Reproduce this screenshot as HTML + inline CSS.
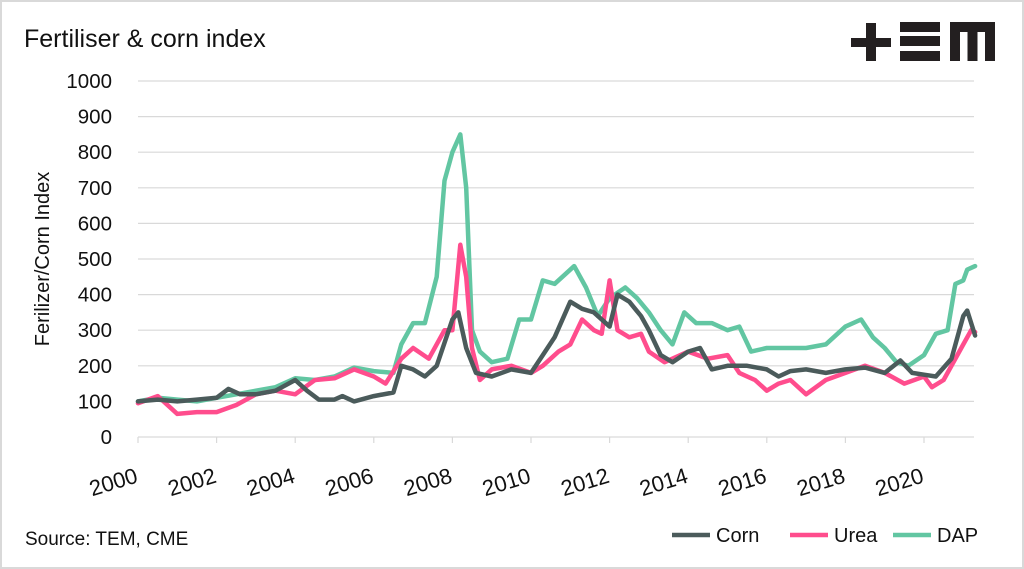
<!DOCTYPE html>
<html><head><style>
body{margin:0;background:#fff;}
svg{display:block;font-family:"Liberation Sans",sans-serif;}
</style></head><body>
<svg id="s" width="1024" height="569" viewBox="0 0 1024 569">
<rect x="1" y="1" width="1022" height="567" fill="#fff" stroke="#d9d9d9" stroke-width="2"/>
<text x="24" y="47" font-size="25" fill="#111">Fertiliser &amp; corn index</text>
<g fill="#231f20">
<rect x="851" y="38" width="40" height="9"/><rect x="866" y="23" width="10" height="38"/>
<rect x="900" y="22" width="40" height="10"/><rect x="900" y="36" width="40" height="10"/><rect x="900" y="51" width="40" height="10"/>
<path d="M950 22h45v39h-10v-29h-7.5v29h-10v-29h-7.5v29h-10z"/>
</g>
<g id="grid" stroke="#d9d9d9" stroke-width="1.2"></g>
<g id="yl" font-size="20.5" fill="#111" text-anchor="end"></g>
<g id="xl" font-size="22" fill="#111" text-anchor="end"></g>
<text transform="translate(49,259) rotate(-90)" font-size="20" text-anchor="middle" fill="#111">Ferilizer/Corn Index</text>
<g id="lines" fill="none" stroke-width="4.5" stroke-linejoin="round" stroke-linecap="round"></g>
<text x="25" y="545" font-size="19" fill="#111">Source: TEM, CME</text>
<line x1="672" y1="535" x2="710" y2="535" stroke="#4b5b5b" stroke-width="4.5"/>
<text x="716" y="542" font-size="20" fill="#111">Corn</text>
<line x1="790" y1="535" x2="828" y2="535" stroke="#ff4d8d" stroke-width="4.5"/>
<text x="834" y="542" font-size="20" fill="#111">Urea</text>
<line x1="893" y1="535" x2="931" y2="535" stroke="#62c6a2" stroke-width="4.5"/>
<text x="937" y="542" font-size="20" fill="#111">DAP</text>
</svg>
<script>
const NS="http://www.w3.org/2000/svg";
const X=t=>138+(t-2000)*39.3, Y=v=>437-v*0.356;
const g=document.getElementById('grid'),yl=document.getElementById('yl'),xl=document.getElementById('xl');
function el(p,tag,a,txt){const e=document.createElementNS(NS,tag);for(const k in a)e.setAttribute(k,a[k]);if(txt)e.textContent=txt;p.appendChild(e);return e;}
for(let v=0;v<=1000;v+=100){
 if(v>0)el(g,'line',{x1:138,x2:974,y1:Y(v),y2:Y(v)});
 el(yl,'text',{x:112,y:Y(v)+7},String(v));}
el(g,'line',{x1:138,x2:974,y1:437,y2:437});
for(let yr=2000;yr<=2020;yr+=2){
 el(g,'line',{x1:X(yr),x2:X(yr),y1:437,y2:443});
 el(xl,'text',{transform:`translate(${X(yr)+1},${482}) rotate(-17)`},String(yr));}
const corn=[2000,100,2000.5,105,2001,100,2001.5,105,2002,110,2002.3,135,2002.6,120,2003,120,2003.5,130,2004,160,2004.3,130,2004.6,105,2005,105,2005.2,115,2005.5,100,2006,115,2006.5,125,2006.7,200,2007,190,2007.3,170,2007.6,200,2008,330,2008.15,350,2008.35,250,2008.6,180,2009,170,2009.5,190,2010,180,2010.3,230,2010.6,280,2011,380,2011.3,360,2011.6,350,2012,310,2012.2,400,2012.5,380,2012.8,340,2013,300,2013.3,230,2013.6,210,2014,240,2014.3,250,2014.6,190,2015,200,2015.5,200,2016,190,2016.3,170,2016.6,185,2017,190,2017.5,180,2018,190,2018.5,195,2019,180,2019.4,215,2019.7,180,2020,175,2020.3,170,2020.7,220,2021,340,2021.1,355,2021.3,285];
const urea=[2000,95,2000.5,115,2001,65,2001.5,70,2002,70,2002.5,90,2003,120,2003.5,130,2004,120,2004.5,160,2005,165,2005.5,190,2006,170,2006.3,150,2006.7,220,2007,250,2007.4,220,2007.8,300,2008,300,2008.2,540,2008.35,450,2008.5,250,2008.7,160,2009,190,2009.5,200,2010,180,2010.3,200,2010.7,240,2011,260,2011.3,330,2011.6,300,2011.8,290,2012,440,2012.2,300,2012.5,280,2012.8,290,2013,240,2013.4,210,2014,240,2014.5,220,2015,230,2015.3,180,2015.7,160,2016,130,2016.3,150,2016.6,160,2017,120,2017.5,160,2018,180,2018.5,200,2019,180,2019.5,150,2020,170,2020.2,140,2020.5,160,2021,260,2021.2,300,2021.3,295];
const dap=[2000,100,2000.5,110,2001,105,2001.5,100,2002,110,2002.5,120,2003,130,2003.5,140,2004,165,2004.5,160,2005,170,2005.5,195,2006,185,2006.5,180,2006.7,260,2007,320,2007.3,320,2007.6,450,2007.8,720,2008,800,2008.2,850,2008.35,700,2008.5,300,2008.7,240,2009,210,2009.4,220,2009.7,330,2010,330,2010.3,440,2010.6,430,2010.9,460,2011.1,480,2011.4,420,2011.7,340,2012,390,2012.4,420,2012.7,390,2013,350,2013.3,300,2013.6,260,2013.9,350,2014.2,320,2014.6,320,2015,300,2015.3,310,2015.6,240,2016,250,2016.5,250,2017,250,2017.5,260,2018,310,2018.4,330,2018.7,280,2019,250,2019.3,210,2019.6,200,2020,230,2020.3,290,2020.6,300,2020.8,430,2021,440,2021.1,470,2021.3,480];
const L=document.getElementById('lines');
function add(d,c){let p=[];for(let i=0;i<d.length;i+=2)p.push(X(d[i]).toFixed(1)+','+Y(d[i+1]).toFixed(1));el(L,'polyline',{points:p.join(' '),stroke:c});}
add(dap,'#62c6a2');add(urea,'#ff4d8d');add(corn,'#4b5b5b');
</script>
</body></html>
